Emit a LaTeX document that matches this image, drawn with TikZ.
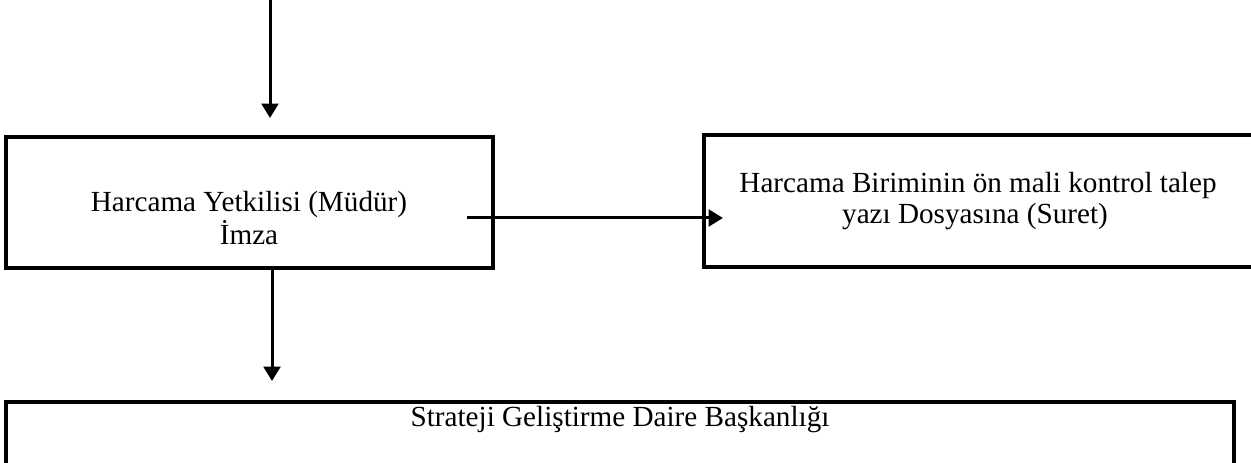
\documentclass[tikz,border=0pt]{standalone}
\usepackage{fontspec}
\setmainfont{Liberation Serif}
\usetikzlibrary{arrows.meta}
\tikzset{
  x=0.6pt, y=-0.6pt,
  boxnode/.style={draw, line width=1.9pt, inner sep=0pt, outer sep=0pt, anchor=north west},
  txt/.style={inner sep=0pt, anchor=base, font=\fontsize{17.5pt}{19pt}\selectfont},
  arr/.style={line width=1.8pt, -{Triangle[length=8.6pt,width=10pt]}}
}
\begin{document}
\begin{tikzpicture}
\fill[white] (0,0) rectangle (1251,463);
\clip (0,0) rectangle (1251,463);
% boxes
\node[boxnode, minimum width=292.2pt, minimum height=78.6pt] (box1) at (6,137) {};
\node[boxnode, minimum width=339.6pt, minimum height=79.2pt] (box2) at (704,135) {};
\node[boxnode, minimum width=736.8pt, minimum height=60pt] (box3) at (6,402) {};
% texts
\node[txt] (t1a) at (249,212) {Harcama Yetkilisi (Müdür)};
\node[txt] (t1b) at (249,245) {İmza};
\node[txt] (t2a) at (978,193) {Harcama Biriminin ön mali kontrol talep};
\node[txt] (t2b) at (975,224) {yazı Dosyasına (Suret)};
\node[txt] (t3) at (620,427) {Strateji Geliştirme Daire Başkanlığı};
% connectors
\coordinate (in0) at (270,-5);
\draw[arr, shorten >=11.4pt] (in0) -- (in0 |- box1.north);
\coordinate (h0) at (467,218);
\draw[arr, shorten >=-11.4pt] (h0) -- (h0 -| box2.west);
\coordinate (d0) at (272,266);
\draw[arr, shorten >=12.6pt] (d0) -- (d0 |- box3.north);
\end{tikzpicture}
\end{document}
